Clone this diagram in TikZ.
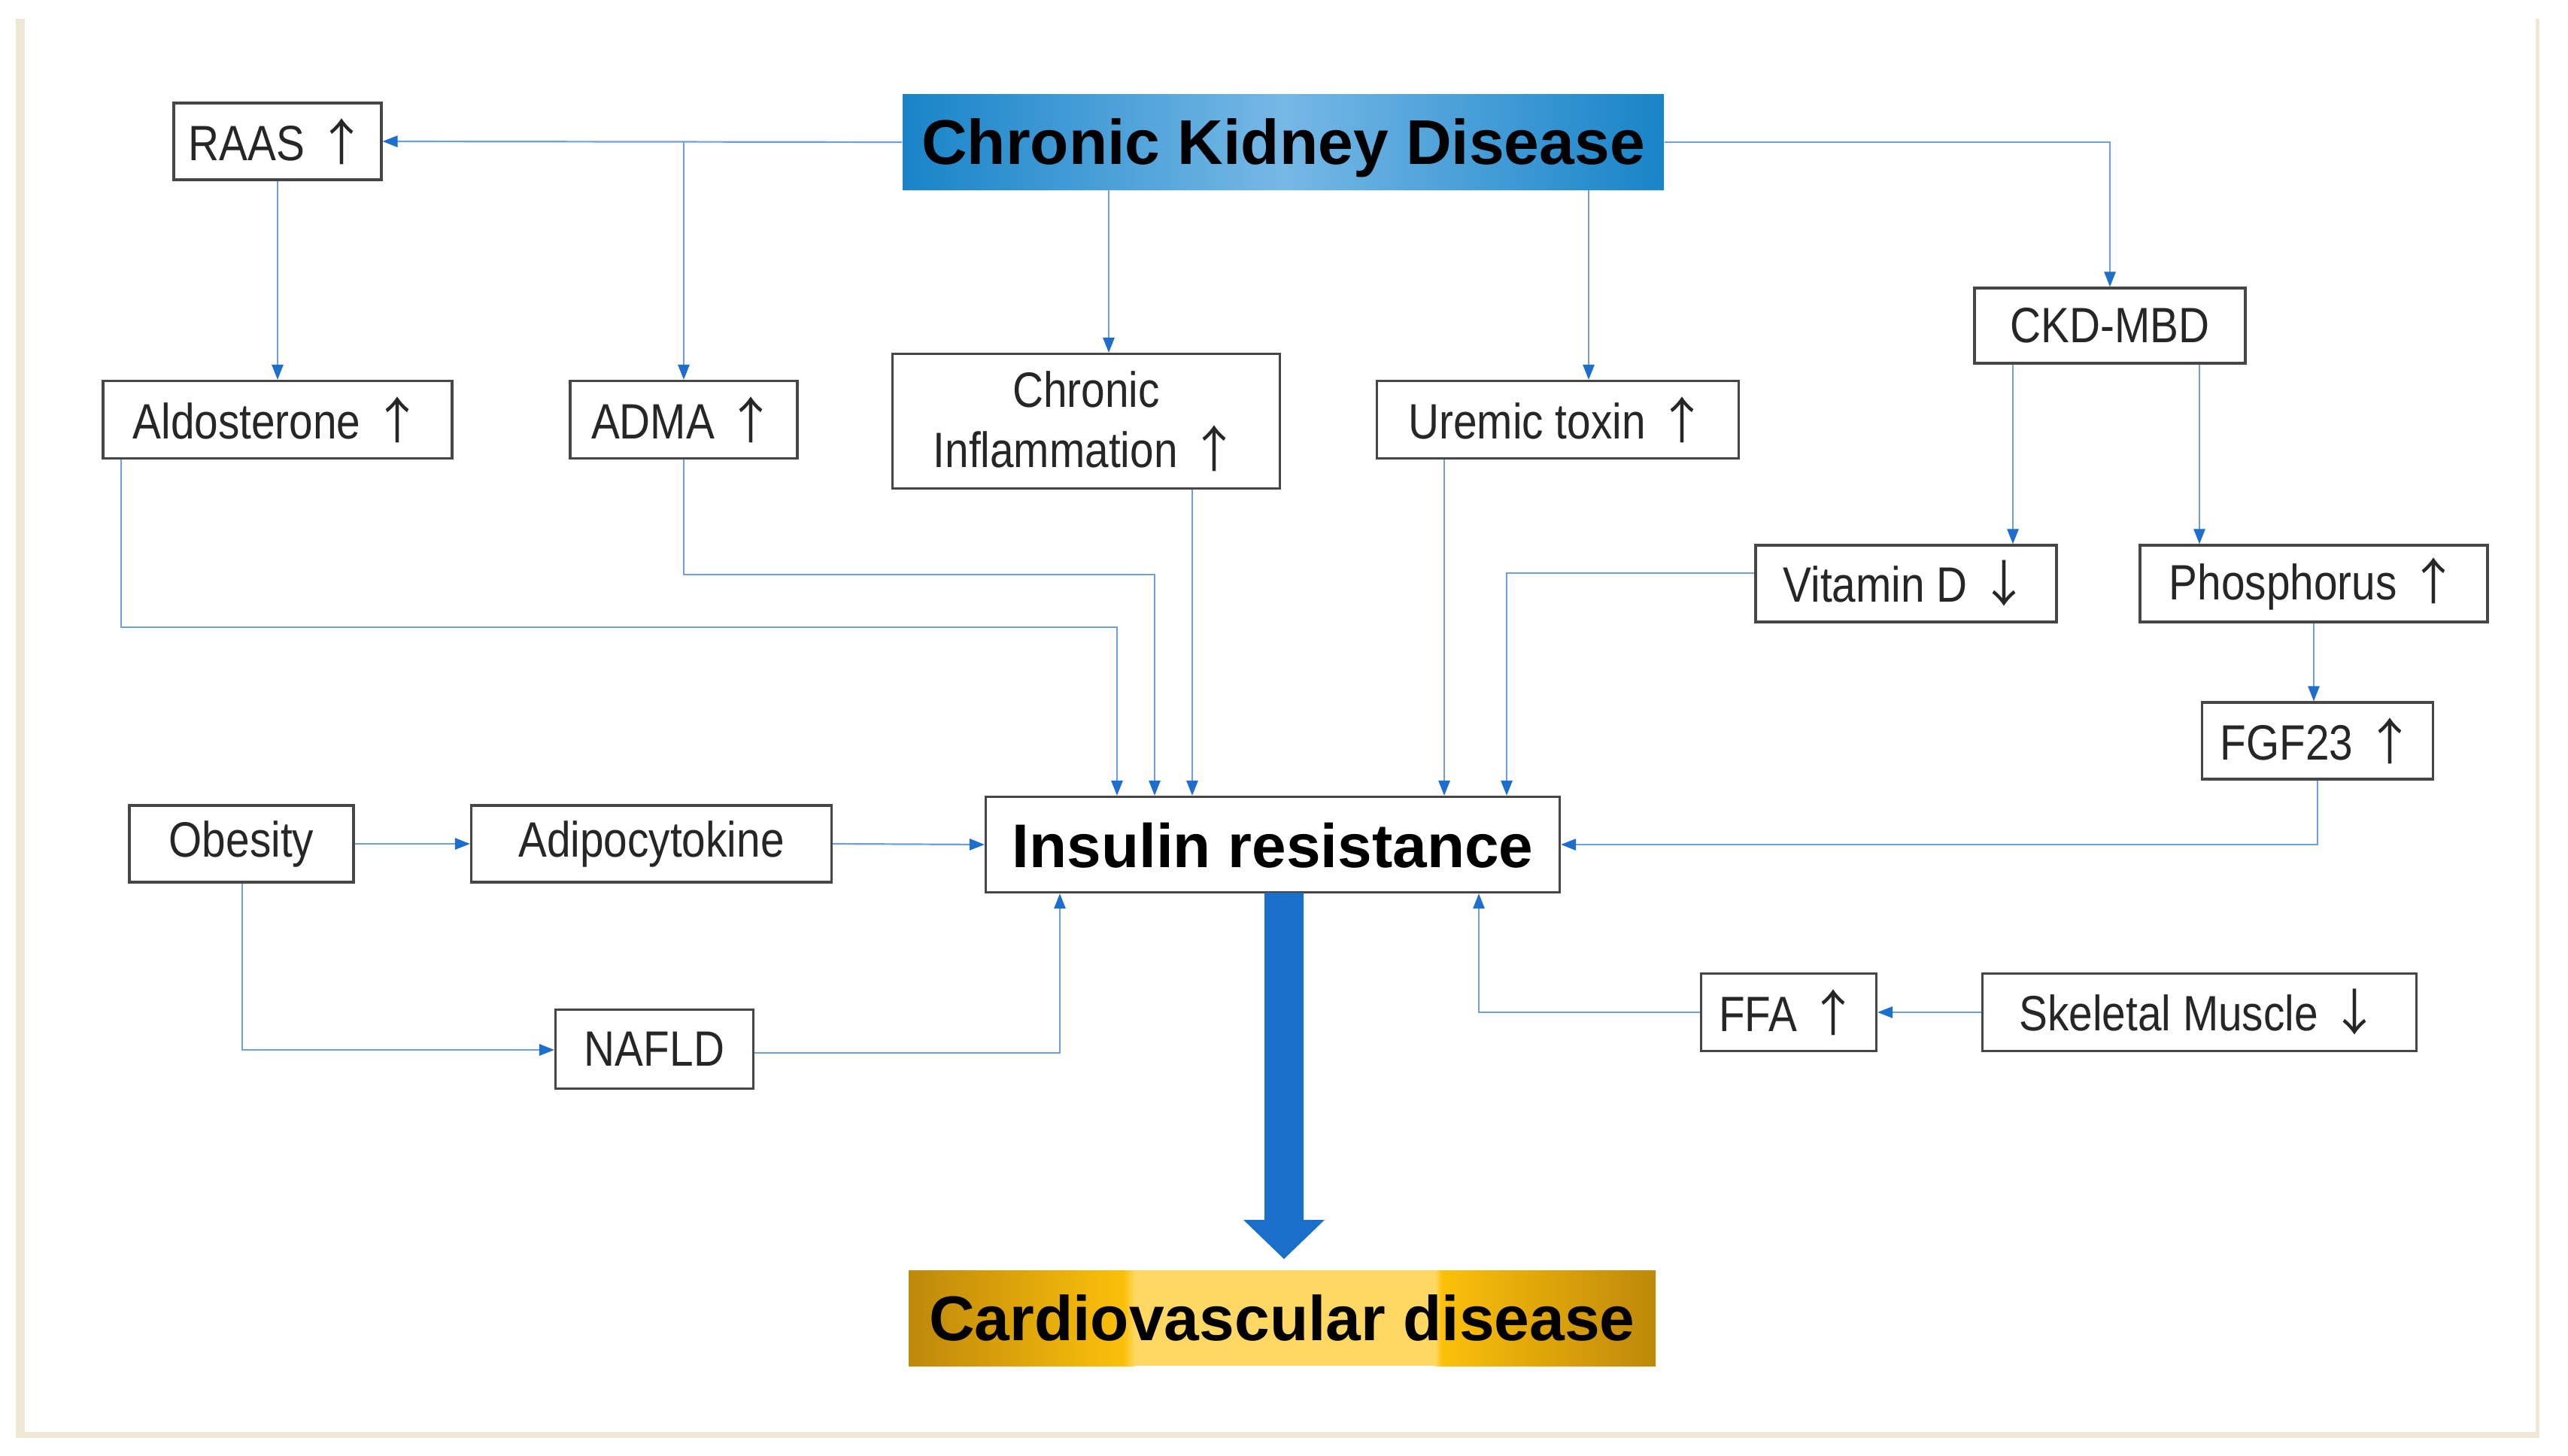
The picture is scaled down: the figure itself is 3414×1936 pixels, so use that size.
\documentclass[tikz,border=0pt]{standalone}
\usepackage{fontspec}
\setmainfont{Liberation Sans}
\newfontfamily\labfont[FakeStretch=0.86]{Liberation Sans}
\newfontfamily\arrfont{Noto Sans CJK JP}
\usetikzlibrary{arrows.meta,calc}
\definecolor{framebeige}{RGB}{237,231,212}
\definecolor{connblue}{RGB}{110,160,220}
\definecolor{tipblue}{RGB}{30,110,205}
\definecolor{bigblue}{RGB}{26,111,203}
\definecolor{boxgray}{RGB}{70,70,70}
\definecolor{ckdedge}{RGB}{24,132,200}
\definecolor{ckdmid}{RGB}{118,184,230}
\definecolor{golddark}{RGB}{190,136,10}
\definecolor{goldbright}{RGB}{252,192,10}
\definecolor{goldlight}{RGB}{255,216,100}
\newcommand{\up}{{\arrfont ↑}}
\newcommand{\dn}{{\arrfont ↓}}
\tikzset{
  lbox/.style={draw=boxgray, line width=0.8pt, fill=white, inner sep=0pt, align=center,
    font=\labfont\fontsize{16.5pt}{20pt}\selectfont, text=black!85},
  conn/.style={draw=connblue, line width=0.55pt, -{Triangle[length=5pt,width=3.8pt,fill=tipblue,color=tipblue]}},
  title/.style={inner sep=0pt, font=\bfseries\fontsize{21pt}{24pt}\selectfont, text=black, text height=15pt, text depth=0pt}
}
\begin{document}
\begin{tikzpicture}[x=0.25pt,y=-0.25pt]
\useasboundingbox (0,0) rectangle (3414,1936);
% frame
\fill[framebeige] (21,25) rectangle (33,1912);
\fill[framebeige] (21,1904) rectangle (3376,1912);
\fill[framebeige] (3371,25) rectangle (3376,1912);

% gold background of the CVD box
\shade[left color=golddark, right color=goldbright] (1208,1689) rectangle (1495,1816);
\shade[left color=goldbright, right color=goldlight] (1494,1689) rectangle (1509,1816);
\fill[goldlight] (1508,1689) rectangle (1909,1816);
\shade[left color=goldlight, right color=goldbright] (1908,1689) rectangle (1917,1816);
\shade[left color=goldbright, right color=golddark] (1916,1689) rectangle (2201,1816);

% title boxes
\node[title, minimum width=253pt, minimum height=31.75pt, left color=ckdedge, right color=ckdedge, middle color=ckdmid] (CKD) at (1706,189) {Chronic Kidney Disease};
\node[title, minimum width=248.25pt, minimum height=31.75pt] (CVD) at (1704.5,1752.5) {Cardiovascular disease};
\node[lbox, minimum width=190.75pt, minimum height=31.75pt, font=\bfseries\fontsize{20.5pt}{24pt}\selectfont, text=black, text height=15pt, text depth=0pt] (IR) at (1692,1123) {Insulin resistance};

% label boxes
\node[lbox, minimum width=69pt, minimum height=25.5pt] (RAAS) at (369,188) {RAAS \up};
\node[lbox, minimum width=116pt, minimum height=25.75pt] (ALD) at (369,558) {Aldosterone \up};
\node[lbox, minimum width=75.5pt, minimum height=25.75pt] (ADMA) at (909,558) {ADMA \up};
\node[lbox, minimum width=128.75pt, minimum height=44.75pt] (CI) at (1444,560) {Chronic\\Inflammation \up};
\node[lbox, minimum width=120.25pt, minimum height=25.75pt] (UT) at (2071,558) {Uremic toxin \up};
\node[lbox, minimum width=90pt, minimum height=25pt] (MBD) at (2805,433) {CKD-MBD};
\node[lbox, minimum width=100pt, minimum height=25.5pt] (VD) at (2534,776) {Vitamin D \dn};
\node[lbox, minimum width=115.5pt, minimum height=25.5pt] (PH) at (3076,776) {Phosphorus \up};
\node[lbox, minimum width=76.75pt, minimum height=25.5pt] (FGF) at (3081,985) {FGF23 \up};
\node[lbox, minimum width=74.5pt, minimum height=25.5pt] (OB) at (321,1122) {Obesity};
\node[lbox, minimum width=119.75pt, minimum height=25.5pt] (AD) at (866,1122) {Adipocytokine};
\node[lbox, minimum width=65.75pt, minimum height=26.25pt] (NA) at (870,1395) {NAFLD};
\node[lbox, minimum width=58.25pt, minimum height=25.75pt] (FFA) at (2378,1346) {FFA \up};
\node[lbox, minimum width=144.25pt, minimum height=25.75pt] (SK) at (2924,1346) {Skeletal Muscle \dn};

% helper coordinates
\coordinate (xCI) at (1474,0);
\coordinate (xUTin) at (2112,0);
\coordinate (xVD) at (2676,0);
\coordinate (xPH) at (2924,0);
\coordinate (xALDo) at (161,0);
\coordinate (xIR1) at (1485,0);
\coordinate (xIR2) at (1535,0);
\coordinate (xCIo) at (1585,0);
\coordinate (xUTo) at (1920,0);
\coordinate (xIR5) at (2003,0);
\coordinate (xOB) at (322,0);
\coordinate (xNA) at (1409,0);
\coordinate (xFFA) at (1966,0);
\coordinate (yALD) at (0,834);
\coordinate (yADMA) at (0,764);
\coordinate (yVD) at (0,762);
\coordinate (yOB) at (0,1396);
\coordinate (yNA) at (0,1400);

% from CKD
\draw[conn] (CKD.west) -- (RAAS.east);
\draw[conn] (ADMA.north |- CKD.west) -- (ADMA.north);
\draw[conn] (CKD.south -| xCI) -- (CI.north -| xCI);
\draw[conn] (CKD.south -| xUTin) -- (UT.north -| xUTin);
\draw[conn] (CKD.east) -| (MBD.north);
\draw[conn] (RAAS.south) -- (ALD.north);
\draw[conn] (MBD.south -| xVD) -- (VD.north -| xVD);
\draw[conn] (MBD.south -| xPH) -- (PH.north -| xPH);
\draw[conn] (PH.south) -- (PH.south |- FGF.north);

% into insulin resistance
\draw[conn] (FGF.south) |- (IR.east);
\draw[conn] (ALD.south -| xALDo) -- (xALDo |- yALD) -- (xIR1 |- yALD) -- (IR.north -| xIR1);
\draw[conn] (ADMA.south) -- (ADMA.south |- yADMA) -- (xIR2 |- yADMA) -- (IR.north -| xIR2);
\draw[conn] (CI.south -| xCIo) -- (IR.north -| xCIo);
\draw[conn] (UT.south -| xUTo) -- (IR.north -| xUTo);
\draw[conn] (VD.west |- yVD) -- (xIR5 |- yVD) -- (IR.north -| xIR5);
\draw[conn] (OB.east) -- (AD.west);
\draw[conn] (AD.east) -- (IR.west);
\draw[conn] (OB.south -| xOB) -- (xOB |- yOB) -- (NA.west |- yOB);
\draw[conn] (NA.east |- yNA) -- (xNA |- yNA) -- (IR.south -| xNA);
\draw[conn] (SK.west) -- (FFA.east);
\draw[conn] (FFA.west) -- (xFFA |- FFA.west) -- (IR.south -| xFFA);

% big arrow IR -> CVD
\fill[bigblue] (1681,1187) -- (1733,1187) -- (1733,1622) -- (1761,1622) -- (1707,1674) -- (1653,1622) -- (1681,1622) -- cycle;
\end{tikzpicture}
\end{document}
